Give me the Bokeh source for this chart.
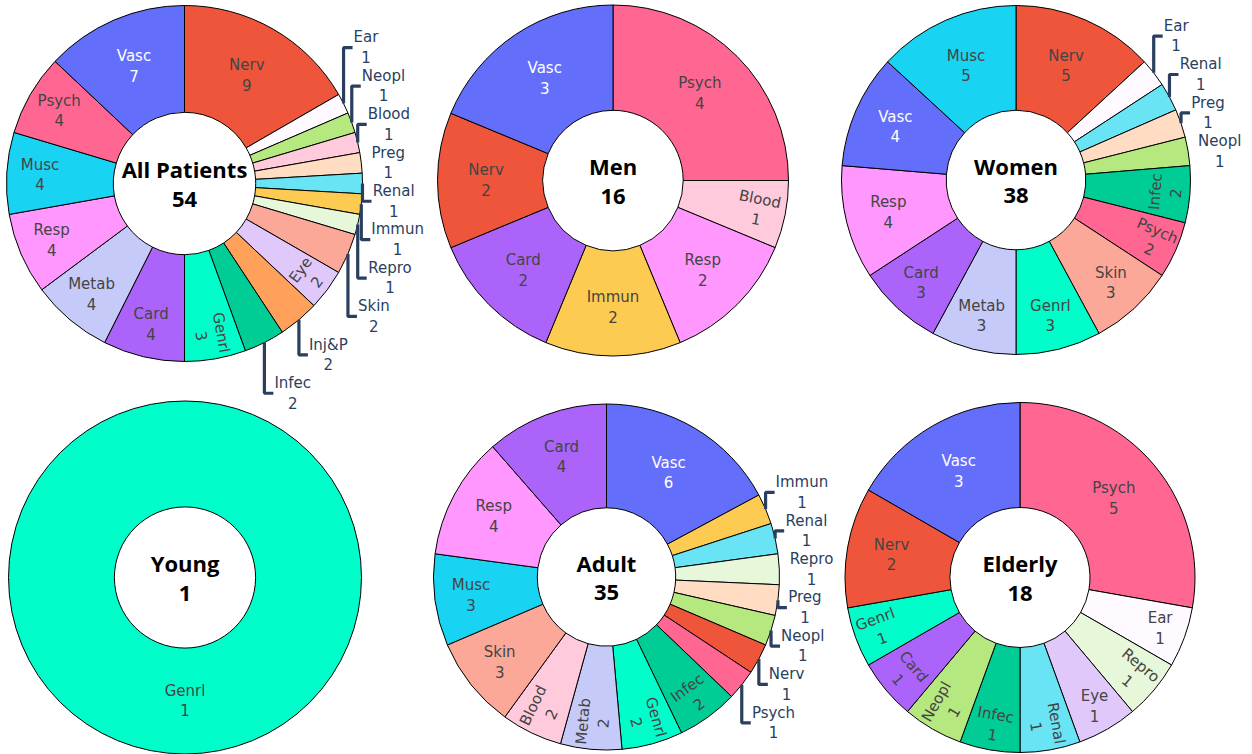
import math
from bokeh.plotting import figure
from bokeh.models import Range1d, ColumnDataSource
from bokeh.embed import file_html
from bokeh.resources import INLINE
from bokeh.core.properties import value

# ---------------- data ----------------
category_colors = {
    "Nerv": "#EF553B", "Vasc": "#636EFA", "Psych": "#FF6692", "Musc": "#19D3F3",
    "Resp": "#FF97FF", "Metab": "#C6CAF9", "Card": "#AB63FA", "Genrl": "#00FECB",
    "Infec": "#00CC96", "Inj&P": "#FFA15A", "Eye": "#E0C8FA", "Skin": "#FCA898",
    "Repro": "#E6F7DA", "Immun": "#FECB52", "Renal": "#68E4F4", "Preg": "#FFDCC2",
    "Blood": "#FFCADB", "Neopl": "#B6E880", "Ear": "#FFFAFF",
}

ap_labels = ["Nerv", "Ear", "Neopl", "Blood", "Preg", "Renal", "Immun", "Repro", "Skin", "Eye",
             "Inj&P", "Infec", "Genrl", "Card", "Metab", "Resp", "Musc", "Psych", "Vasc"]
ap_values = [9, 1, 1, 1, 1, 1, 1, 1, 2, 2, 2, 2, 3, 4, 4, 4, 4, 4, 7]

men_labels = ["Psych", "Blood", "Resp", "Immun", "Card", "Nerv", "Vasc"]
men_values = [4, 1, 2, 2, 2, 2, 3]

women_labels = ["Nerv", "Ear", "Renal", "Preg", "Neopl", "Infec", "Psych", "Skin", "Genrl",
                "Metab", "Card", "Resp", "Vasc", "Musc"]
women_values = [5, 1, 1, 1, 1, 2, 2, 3, 3, 3, 3, 4, 4, 5]

young_labels = ["Genrl"]
young_values = [1]

adult_labels = ["Vasc", "Immun", "Renal", "Repro", "Preg", "Neopl", "Nerv", "Psych", "Infec",
                "Genrl", "Metab", "Blood", "Skin", "Musc", "Resp", "Card"]
adult_values = [6, 1, 1, 1, 1, 1, 1, 1, 2, 2, 2, 2, 3, 3, 4, 4]

elderly_labels = ["Psych", "Ear", "Repro", "Eye", "Renal", "Infec", "Neopl", "Card", "Genrl",
                  "Nerv", "Vasc"]
elderly_values = [5, 1, 1, 1, 1, 1, 1, 1, 1, 2, 3]

chart_titles = ["All Patients", "Men", "Women", "Young", "Adult", "Elderly"]
chart_labels = [ap_labels, men_labels, women_labels, young_labels, adult_labels, elderly_labels]
chart_values = [ap_values, men_values, women_values, young_values, adult_values, elderly_values]

# ---------------- layout (page pixel coords) ----------------
chart_centers = [(184, 183), (612.5, 180), (1015.5, 179.5), (184.5, 577), (606, 576.5), (1019.5, 577)]
chart_radii = [178, 175.5, 174.5, 176.5, 173, 175]
HOLE = 0.4

PW, PH = 1252, 754
FS = 15
LABEL_FONT = "DejaVu Sans"
LINE_H = 39.5    # text block height used for fitting
STACK = 38.4     # vertical spacing of stacked outside labels
OUT_COLOR = "#2a3f5f"

CW = {" ": .318, "A": .684, "B": .686, "C": .698, "D": .770, "E": .632, "G": .775, "I": .295,
      "M": .863, "N": .748, "P": .603, "R": .695, "S": .635, "V": .684, "a": .613, "b": .635,
      "c": .550, "d": .635, "e": .615, "f": .352, "g": .635, "h": .634, "i": .278, "j": .278,
      "k": .579, "l": .278, "m": .974, "n": .634, "o": .612, "p": .635, "r": .411, "s": .521,
      "t": .392, "u": .634, "v": .592, "y": .592, "&": .780}


def tw(s):
    return sum(CW.get(ch, 0.636) for ch in s) * FS


def X(x):
    return x


def Y(y):
    return PH - y


def norm_angle(a):
    return ((a + 90) % 180) - 90


def contrast(hexcol):
    r, g, b = int(hexcol[1:3], 16), int(hexcol[3:5], 16), int(hexcol[5:7], 16)
    return "#444444" if (r * 299 + g * 587 + b * 114) / 1000 >= 128 else "#ffffff"


def inside_transform(label, val, total, R):
    wt = max(tw(label), tw(str(val)))
    ht = LINE_H
    half = math.pi * min(val / total, 0.5)
    ring = 1 - HOLE
    rins = min(1 / (1 + 1 / math.sin(half)), ring / 2)
    sc = rins * R * 2 / math.hypot(wt, ht)
    if sc >= 1:
        return sc, 1 - rins, "h"
    rp = R - 6

    def half_size(a):
        q = a + 1 / (2 * math.tan(half))
        return rp * min(1 / (math.sqrt(q * q + 0.5) + q), ring / (math.sqrt(a * a + ring / 2) + a))

    a1 = wt / ht
    s1 = half_size(a1)
    rad = (s1 * 2 / ht, math.cos(s1 / rp) - a1 * s1 / rp, "r")
    a2 = ht / wt
    s2 = half_size(a2)
    tan = (s2 * 2 / wt, math.cos(s2 / rp) - a2 * s2 / rp, "t")
    best = (sc, 1 - rins, "h")
    for c in (rad, tan):
        if c[0] > best[0]:
            best = c
    return best


p = figure(width=PW, height=PH, output_backend="svg", toolbar_location=None,
           x_range=Range1d(0, PW), y_range=Range1d(0, PH),
           x_axis_location=None, y_axis_location=None, min_border=0)
p.grid.visible = False
p.outline_line_color = None
p.background_fill_color = "white"

wedge = dict(x=[], y=[], ir=[], orr=[], sa=[], ea=[], color=[])
ring_src = dict(x=[], y=[], ir=[], orr=[], color=[])
ins = dict(x=[], y=[], text=[], angle=[], color=[])
outs = dict(x=[], y=[], text=[])
conn = dict(xs=[], ys=[])
centers = dict(x=[], y=[], text=[])

for title, labels, vals, (cx, cy), R in zip(chart_titles, chart_labels, chart_values,
                                            chart_centers, chart_radii):
    total = sum(vals)
    rin = HOLE * R
    centers["x"].append(X(cx))
    centers["y"].append(Y(cy))
    centers["text"].append(f"{title}\n{total}")
    cum = 0
    outside = []
    for lab, v in zip(labels, vals):
        th0 = cum / total * 360
        th1 = (cum + v) / total * 360
        thm = (th0 + th1) / 2
        cum += v
        col = category_colors[lab]
        if v == total:
            ring_src["x"].append(X(cx)); ring_src["y"].append(Y(cy))
            ring_src["ir"].append(rin); ring_src["orr"].append(R); ring_src["color"].append(col)
        else:
            wedge["x"].append(X(cx)); wedge["y"].append(Y(cy))
            wedge["ir"].append(rin); wedge["orr"].append(R)
            wedge["sa"].append(math.radians(90 - th1)); wedge["ea"].append(math.radians(90 - th0))
            wedge["color"].append(col)
        sc, rc, mode = inside_transform(lab, v, total, R)
        if sc < 1:
            ex = cx + R * math.sin(math.radians(thm))
            ey = cy - R * math.cos(math.radians(thm))
            outside.append(dict(lab=lab, v=v, ex=ex, ey=ey, th=thm))
            continue
        rr = rc * R
        tx = cx + rr * math.sin(math.radians(thm))
        ty = cy - rr * math.cos(math.radians(thm))
        if mode == "h":
            ang = 0
        elif mode == "r":
            ang = norm_angle(90 - thm)
        else:
            ang = norm_angle(180 - thm)
        ins["x"].append(X(tx)); ins["y"].append(Y(ty))
        ins["text"].append(f"{lab}\n{v}")
        ins["angle"].append(math.radians(ang))
        ins["color"].append(contrast(col))

    # outside labels: stack vertically, per side
    for side in (1, -1):
        grp = [o for o in outside if (o["th"] <= 180) == (side == 1)]
        upper = sorted([o for o in grp if o["ey"] < cy - 0.5], key=lambda o: -o["ey"])
        lower = sorted([o for o in grp if o["ey"] >= cy - 0.5], key=lambda o: o["ey"])
        prev = None
        for o in upper:
            o["ly"] = o["ey"] if prev is None else min(o["ey"], prev - STACK)
            prev = o["ly"]
        prev = upper[0]["ly"] if upper else None
        for o in lower:
            o["ly"] = o["ey"] if prev is None else max(o["ey"], prev + STACK)
            prev = o["ly"]
        for o in grp:
            wb = max(tw(o["lab"]), tw(str(o["v"])))
            bx = o["ex"] + side * (10 + wb / 2)
            outs["x"].append(X(bx)); outs["y"].append(Y(o["ly"]))
            outs["text"].append(f"{o['lab']}\n{o['v']}")
            if abs(o["ly"] - o["ey"]) > 1:
                conn["xs"].append([X(o["ex"]), X(o["ex"]), X(o["ex"] + side * 9)])
                conn["ys"].append([Y(o["ey"]), Y(o["ly"]), Y(o["ly"])])

p.annular_wedge(x="x", y="y", inner_radius="ir", outer_radius="orr", start_angle="sa",
                end_angle="ea", fill_color="color", line_color="black", line_width=1,
                source=ColumnDataSource(wedge))
if ring_src["x"]:
    p.annulus(x="x", y="y", inner_radius="ir", outer_radius="orr", fill_color="color",
              line_color="black", line_width=1, source=ColumnDataSource(ring_src))

p.text(x="x", y="y", text="text", angle="angle", text_color="color",
       text_font=value(LABEL_FONT), text_font_size=f"{FS}px", text_align="center",
       text_baseline="middle", text_line_height=1.145, source=ColumnDataSource(ins))

p.multi_line(xs="xs", ys="ys", line_color=OUT_COLOR, line_width=3.2,
             source=ColumnDataSource(conn))
p.text(x="x", y="y", text="text", text_color=OUT_COLOR,
       text_font=value(LABEL_FONT), text_font_size=f"{FS}px", text_align="center",
       text_baseline="middle", text_line_height=1.145, source=ColumnDataSource(outs))

p.text(x="x", y="y", text="text", text_color="black", text_font=value("Open Sans"),
       text_font_style="bold", text_font_size="22px", text_align="center",
       text_baseline="middle", text_line_height=0.955, source=ColumnDataSource(centers))

open("out.html", "w").write(file_html(p, INLINE))
